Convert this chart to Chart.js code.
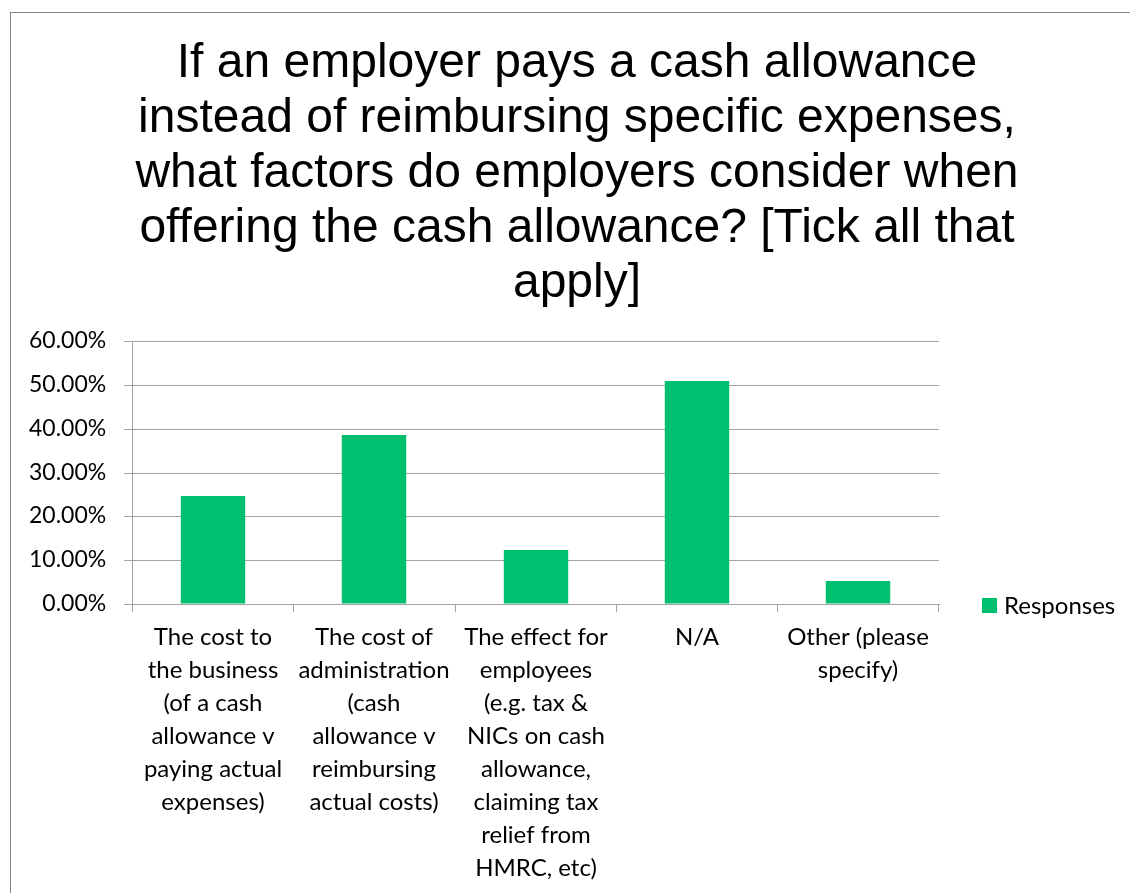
<!DOCTYPE html>
<html>
<head>
<meta charset="utf-8">
<script src="https://cdn.jsdelivr.net/npm/chart.js@4/dist/chart.umd.min.js"></script>
<style>
  html, body { margin: 0; padding: 0; background: #fff; overflow: hidden; }
  canvas { display: block; }
</style>
</head>
<body>
<canvas id="grafico" width="1130" height="893"></canvas>
<script>
const titulo = [
  "If an employer pays a cash allowance",
  "instead of reimbursing specific expenses,",
  "what factors do employers consider when",
  "offering the cash allowance? [Tick all that",
  "apply]"
];

const categorias = [
  ["The cost to", "the business", "(of a cash", "allowance v", "paying actual", "expenses)"],
  ["The cost of", "administration", "(cash", "allowance v", "reimbursing", "actual costs)"],
  ["The effect for", "employees", "(e.g. tax &", "NICs on cash", "allowance,", "claiming tax", "relief from", "HMRC, etc)"],
  ["N/A"],
  ["Other (please", "specify)"]
];

const respostas = [24.56, 38.60, 12.28, 50.88, 5.26];
const eixoY = { min: 0, max: 60, passo: 10 };

const FONTE_TEXTO = "Lato, 'Open Sans', sans-serif";
const FONTE_TITULO = "'Liberation Sans', Arial, sans-serif";
const COR_GRADE = "#a3a3a3";

// moldura cinza em volta do gráfico
const moldura = {
  id: "moldura",
  beforeDraw(chart) {
    const ctx = chart.ctx;
    ctx.save();
    ctx.fillStyle = "#fff";
    ctx.fillRect(0, 0, chart.width, chart.height);
    ctx.strokeStyle = "#868686";
    ctx.lineWidth = 1;
    ctx.strokeRect(10.5, 12.5, chart.width + 50, chart.height + 50);
    ctx.restore();
  }
};

// título centrado na página (não só sobre a área do gráfico)
const tituloCentral = {
  id: "tituloCentral",
  afterDraw(chart) {
    const ctx = chart.ctx;
    ctx.save();
    ctx.fillStyle = "#000";
    ctx.font = "48px " + FONTE_TITULO;
    ctx.textAlign = "center";
    ctx.textBaseline = "alphabetic";
    titulo.forEach((linha, i) => ctx.fillText(linha, 577, 77 + i * 55));
    ctx.restore();
  }
};

// legenda desenhada à direita, na altura do eixo X
const legendaLateral = {
  id: "legendaLateral",
  afterDraw(chart) {
    const ctx = chart.ctx;
    const area = chart.chartArea;
    const x = area.right + 43;
    const y = area.bottom + 1;
    ctx.save();
    chart.data.datasets.forEach(ds => {
      ctx.fillStyle = ds.backgroundColor;
      ctx.fillRect(x, y - 7, 15, 15);
      ctx.fillStyle = "#000";
      ctx.font = "24px " + FONTE_TEXTO;
      ctx.textBaseline = "middle";
      ctx.fillText(ds.label, x + 22, y + 1);
    });
    ctx.restore();
  }
};

new Chart(document.getElementById("grafico"), {
  type: "bar",
  data: {
    labels: categorias,
    datasets: [{
      label: "Responses",
      data: respostas,
      backgroundColor: "#00bf6f",
      barPercentage: 0.4,
      categoryPercentage: 1.0
    }]
  },
  options: {
    responsive: false,
    animation: false,
    devicePixelRatio: 1,
    layout: { padding: { left: 11, right: 191, top: 341, bottom: 8 } },
    plugins: {
      legend: { display: false },
      tooltip: { enabled: false },
      title: { display: false }
    },
    scales: {
      x: {
        alignToPixels: true,
        grid: {
          offset: true,
          drawOnChartArea: false,
          drawTicks: true,
          tickLength: 8,
          color: COR_GRADE
        },
        border: { color: COR_GRADE },
        ticks: {
          color: "#000",
          maxRotation: 0,
          autoSkip: false,
          padding: 9,
          font: { family: FONTE_TEXTO, size: 24, lineHeight: 1.375 }
        },
        // o eixo precisa de altura para todas as linhas dos rótulos
        afterFit(escala) {
          const fonte = Chart.helpers.toFont(escala.options.ticks.font);
          const linhas = Math.max(...categorias.map(c => c.length));
          escala.height = escala.options.grid.tickLength + escala.options.ticks.padding + linhas * fonte.lineHeight;
        }
      },
      y: {
        alignToPixels: true,
        min: eixoY.min,
        max: eixoY.max,
        grid: { color: COR_GRADE, tickLength: 8 },
        border: { color: COR_GRADE },
        ticks: {
          stepSize: eixoY.passo,
          color: "#000",
          padding: 18,
          font: { family: FONTE_TEXTO, size: 23 },
          callback: v => v.toFixed(2) + "%"
        }
      }
    }
  },
  plugins: [moldura, tituloCentral, legendaLateral]
});
</script>
</body>
</html>
